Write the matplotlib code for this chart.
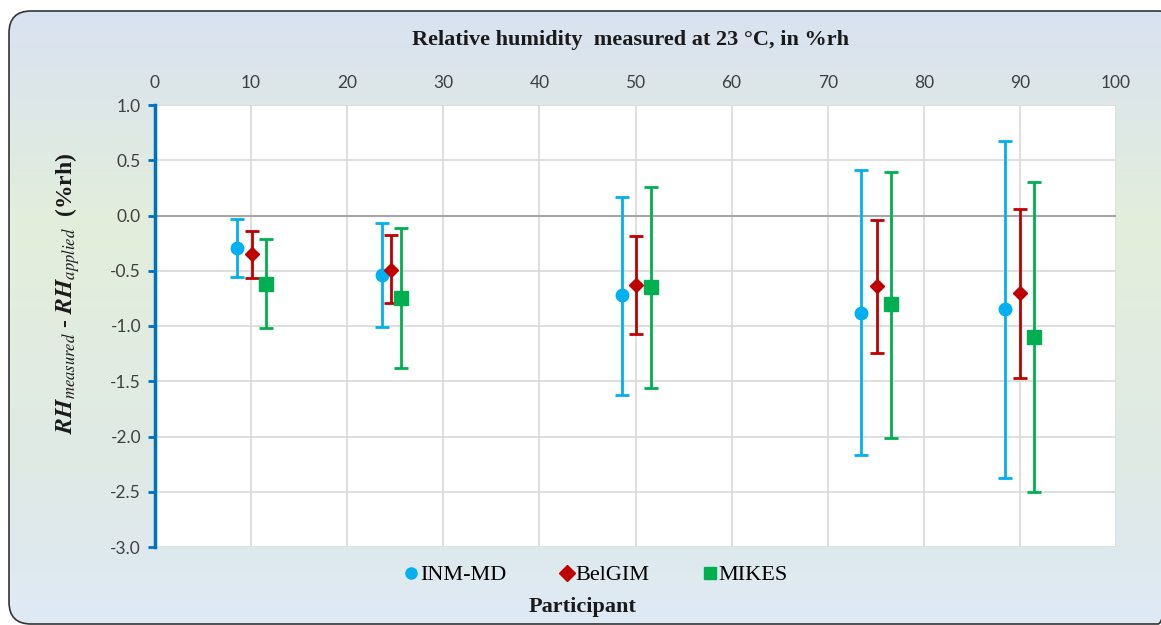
import matplotlib
matplotlib.use('Agg')
import matplotlib.pyplot as plt
import numpy as np
from matplotlib.patches import FancyBboxPatch
from matplotlib.colors import LinearSegmentedColormap
from matplotlib.lines import Line2D

# ==================================== data ====================================
participants = ['INM-MD', 'BelGIM', 'MIKES']
colors = ['#00b0f0', '#c00000', '#00b050']
markers = ['o', 'D', 's']
marker_sizes = [9, 7, 9.5]

x_inm = [8.5, 23.6, 48.6, 73.5, 88.5]
y_inm = [-0.29, -0.54, -0.72, -0.88, -0.85]
lo_inm = [-0.56, -1.01, -1.62, -2.17, -2.38]
hi_inm = [-0.03, -0.07, 0.17, 0.41, 0.67]

x_bel = [10.1, 24.6, 50.1, 75.1, 90.0]
y_bel = [-0.35, -0.49, -0.63, -0.64, -0.70]
lo_bel = [-0.57, -0.79, -1.07, -1.24, -1.47]
hi_bel = [-0.14, -0.18, -0.19, -0.04, 0.06]

x_mik = [11.6, 25.6, 51.6, 76.6, 91.5]
y_mik = [-0.62, -0.75, -0.65, -0.80, -1.10]
lo_mik = [-1.02, -1.38, -1.56, -2.01, -2.50]
hi_mik = [-0.21, -0.11, 0.26, 0.39, 0.30]

x_ticks = np.arange(0, 101, 10)
y_ticks = np.arange(-3.0, 1.01, 0.5)

series = [(x_inm, y_inm, lo_inm, hi_inm),
          (x_bel, y_bel, lo_bel, hi_bel),
          (x_mik, y_mik, lo_mik, hi_mik)]

plt.rcParams['mathtext.fontset'] = 'stix'

W, H = 1161, 625
fig = plt.figure(figsize=(W / 100, H / 100), dpi=100)

# ==================================== background panel =======================
bg = fig.add_axes([0, 0, 1, 1])
bg.set_xlim(0, W)
bg.set_ylim(H, 0)
bg.axis('off')
cmap = LinearSegmentedColormap.from_list('bg', [(0.0, '#d9e2f1'), (0.35, '#e3eedc'),
                                                (0.75, '#e0eae6'), (1.0, '#dee9f5')])
grad = np.linspace(0, 1, 256).reshape(-1, 1)
im = bg.imshow(grad, cmap=cmap, extent=[9, W + 20, 624, 11], aspect='auto')
frame = FancyBboxPatch((9, 11), W + 10, 613, boxstyle='round,pad=0,rounding_size=22',
                       facecolor='none', edgecolor='#333333', linewidth=1.2)
bg.add_patch(frame)
im.set_clip_path(frame)

# ==================================== main axes ==============================
ax = fig.add_axes([155 / W, 1 - 547 / H, (1116 - 155) / W, (547 - 105) / H])
ax.set_facecolor('white')
ax.set_xlim(0, 100)
ax.set_ylim(-3.0, 1.0)

for (xs, ys, lo, hi), c, m, ms in zip(series, colors, markers, marker_sizes):
    ys = np.array(ys)
    yerr = [ys - np.array(lo), np.array(hi) - ys]
    ax.errorbar(xs, ys, yerr=yerr, fmt=m, color=c, ecolor=c, markersize=ms,
                elinewidth=2, capsize=5, capthick=2, zorder=5)

ax.set_xticks(x_ticks)
ax.set_yticks(y_ticks)
ax.grid(True, color='#d9d9d9', linewidth=1.2, zorder=0)
ax.set_axisbelow(True)
ax.axhline(0, color='#a6a6a6', linewidth=1.5, zorder=1)

ax.xaxis.tick_top()
ax.tick_params(axis='x', length=0, labelsize=12.5, labelcolor='#404040', pad=10)
ax.tick_params(axis='y', length=5, width=2, color='#0070c0', labelsize=12.5,
               labelcolor='#404040', pad=5)
ax.set_yticklabels([f'{v:.1f}' for v in y_ticks])
for lab in ax.get_xticklabels() + ax.get_yticklabels():
    lab.set_family('Lato')

for s in ['top', 'right', 'bottom']:
    ax.spines[s].set_visible(False)
ax.spines['left'].set_color('#0070c0')
ax.spines['left'].set_linewidth(2.5)

# ==================================== texts ==================================
fig.text(630 / W, 1 - 40 / H, 'Relative humidity  measured at 23 °C, in %rh',
         ha='center', va='center', fontsize=16, fontweight='bold',
         family='Liberation Serif', color='#1a1a1a')
fig.text(68 / W, 1 - 293 / H,
         r'$\mathbfit{RH}_{\mathit{measured}}$ - $\mathbfit{RH}_{\mathit{applied}}$  (%rh)',
         rotation=90, ha='center', va='center', fontsize=17, fontweight='bold',
         family='Liberation Serif', color='#1a1a1a')
fig.text(583 / W, 1 - 607 / H, 'Participant', ha='center', va='center',
         fontsize=16, fontweight='bold', family='Liberation Serif', color='#1a1a1a')

handles = [Line2D([], [], linestyle='none', marker=m, color=c, markersize=8)
           for m, c in zip(markers, colors)]
fig.legend(handles, participants, loc='center', bbox_to_anchor=(594 / W, 1 - 575 / H),
           ncol=3, frameon=False, prop={'family': 'Liberation Serif', 'size': 16},
           handletextpad=-0.1, columnspacing=2.2, handlelength=1.0)

fig.savefig('out.png', dpi=100)
